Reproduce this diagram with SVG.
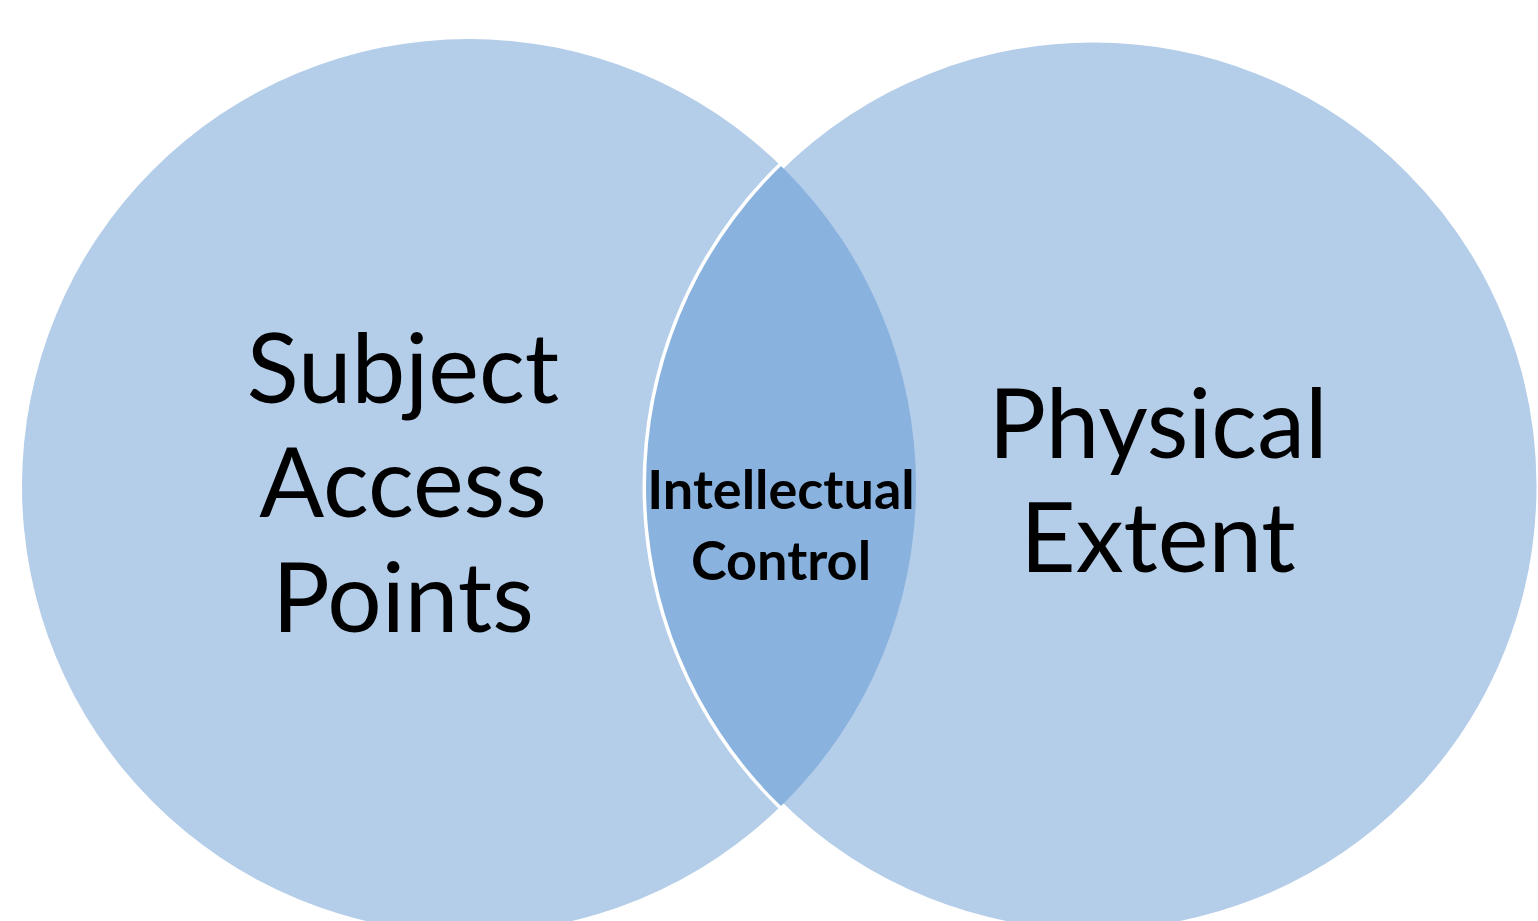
<svg xmlns="http://www.w3.org/2000/svg" width="1538" height="921" viewBox="0 0 1538 921">
<style>
.c{fill:#B4CDE9}
.r{fill:#B4CDE9;stroke:#FFFFFF;stroke-width:7}
.lens{fill:#89B2DE}
.big{font-family:Lato,"Open Sans","Liberation Sans",sans-serif;font-size:96px;fill:#000;text-anchor:middle}
.small{font-family:Lato,"Open Sans","Liberation Sans",sans-serif;font-size:54px;font-weight:bold;fill:#000;text-anchor:middle}
</style>
<defs>
<clipPath id="clipR"><circle cx="1093" cy="486" r="447"/></clipPath>
</defs>
<rect width="1538" height="921" fill="#FFFFFF"/>
<g id="subject-access-points">
<circle class="c" cx="469" cy="486" r="447"/>
</g>
<g id="physical-extent">
<circle class="r" cx="1093" cy="486" r="447"/>
</g>
<g id="intellectual-control">
<circle class="lens" cx="469" cy="486" r="447" clip-path="url(#clipR)"/>
</g>
<g id="labels">
<text class="big" x="403" y="403">Subject</text>
<text class="big" x="403" y="517">Access</text>
<text class="big" x="403" y="632">Points</text>
<text class="big" x="1158" y="458">Physical</text>
<text class="big" x="1158" y="572">Extent</text>
<text class="small" x="781" y="509">Intellectual</text>
<text class="small" x="781" y="580">Control</text>
</g>
<g id="connectors"/>
</svg>
